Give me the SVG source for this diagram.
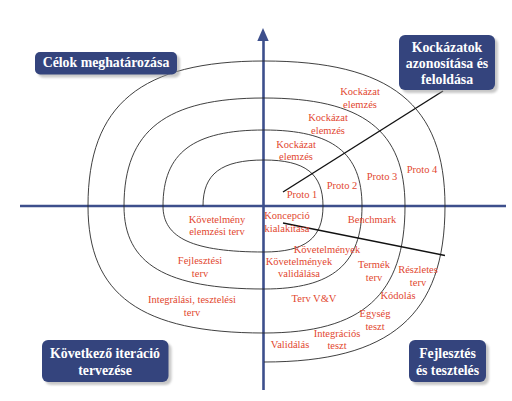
<svg xmlns="http://www.w3.org/2000/svg" width="512" height="401" viewBox="0 0 512 401">
<defs>
<style>
.box{fill:#34447d;}
.shadow{fill:#9a9a9a;opacity:0.55;}
.title{font-family:"Liberation Serif","Times New Roman",serif;font-weight:bold;font-size:13.8px;fill:#ffffff;text-anchor:middle;}
.lbl{font-family:"Liberation Serif","Times New Roman",serif;font-size:10.5px;fill:#e2472f;text-anchor:middle;}
.axis{stroke:#3d4f8c;stroke-width:2.6;fill:none;}
.axshadow{stroke:#c4c4c4;stroke-width:2.4;fill:none;}
.spiral{stroke:#2a2a2a;stroke-width:0.9;fill:none;}
.conn{stroke:#111111;stroke-width:1.4;fill:none;}
</style>
<filter id="blur" x="-10%" y="-20%" width="120%" height="140%"><feGaussianBlur stdDeviation="1.2"/></filter>
</defs>
<rect width="512" height="401" fill="#ffffff"/>

<g id="axes">
<line class="axshadow" x1="22" y1="208.8" x2="507" y2="208.8" filter="url(#blur)"/>
<line class="axshadow" x1="266.5" y1="40" x2="266.5" y2="391" filter="url(#blur)"/>
<line class="axis" x1="20" y1="206" x2="506" y2="206"/>
<line class="axis" x1="263.5" y1="38" x2="263.5" y2="390"/>
<polygon points="263,28 257.3,41 268.7,41" fill="#3d4f8c"/>
</g>

<g id="spiral">
<path class="spiral" d="M203,206 C203,173.8 221.3,160 264,160 C305.3,160 323,173.8 323,206 C323,238.2 305.3,252 264,252 C193.3,252 163,238.2 163,206 C163,152.8 193.3,130 264,130 C332.6,130 362,152.8 362,206 C362,264.1 332.6,289 264,289 C166,289 124,264.1 124,206 C124,130.4 166,98 264,98 C362.7,98 405,130.4 405,206 C405,294.9 362.7,333 264,333 C140.8,333 88,294.9 88,206 C88,104.5 140.8,61 264,61 C390.7,61 445,104.5 445,206 C445,315.2 390.7,362 264,362"/>
</g>

<g id="connectors">
<line class="conn" x1="283" y1="192" x2="443" y2="91"/>
<line class="conn" x1="283" y1="223" x2="445" y2="255.5"/>
</g>

<g id="node-celok">
<rect class="shadow" x="38" y="55" width="142" height="22.5" rx="5" filter="url(#blur)"/>
<rect class="box" x="35" y="52" width="142" height="22.5" rx="5"/>
<text class="title" x="106" y="67.3">Célok meghatározása</text>
</g>

<g id="node-kockazatok">
<rect class="shadow" x="402" y="38" width="96" height="55" rx="6" filter="url(#blur)"/>
<rect class="box" x="399" y="35" width="96" height="55" rx="6"/>
<text class="title" x="447" y="52">Kockázatok</text>
<text class="title" x="447" y="68">azonosítása és</text>
<text class="title" x="447" y="84">feloldása</text>
</g>

<g id="node-kovetkezo">
<rect class="shadow" x="45" y="343" width="126.5" height="42" rx="6" filter="url(#blur)"/>
<rect class="box" x="42" y="340" width="126.5" height="42" rx="6"/>
<text class="title" x="105" y="358">Következő iteráció</text>
<text class="title" x="105" y="375">tervezése</text>
</g>

<g id="node-fejlesztes">
<rect class="shadow" x="412" y="343" width="77" height="42" rx="6" filter="url(#blur)"/>
<rect class="box" x="409" y="340" width="77" height="42" rx="6"/>
<text class="title" x="447.5" y="358">Fejlesztés</text>
<text class="title" x="447.5" y="375">és tesztelés</text>
</g>

<g id="labels">
<text class="lbl" x="360" y="95.2">Kockázat</text>
<text class="lbl" x="360" y="107.7">elemzés</text>
<text class="lbl" x="328" y="121.2">Kockázat</text>
<text class="lbl" x="328" y="133.7">elemzés</text>
<text class="lbl" x="296" y="147.5">Kockázat</text>
<text class="lbl" x="296" y="160.2">elemzés</text>
<text class="lbl" x="302" y="197.5">Proto 1</text>
<text class="lbl" x="342" y="188.5">Proto 2</text>
<text class="lbl" x="382" y="180.2">Proto 3</text>
<text class="lbl" x="422" y="172.5">Proto 4</text>
<text class="lbl" x="287" y="218.5">Koncepció</text>
<text class="lbl" x="287" y="231.5">kialakítása</text>
<text class="lbl" x="372" y="222.5">Benchmark</text>
<text class="lbl" x="217" y="222.5">Követelmény</text>
<text class="lbl" x="217" y="234.5">elemzési terv</text>
<text class="lbl" x="327" y="252.5">Követelmények</text>
<text class="lbl" x="299" y="264.5">Követelmények</text>
<text class="lbl" x="299" y="276.5">validálása</text>
<text class="lbl" x="374" y="267.5">Termék</text>
<text class="lbl" x="374" y="280.5">terv</text>
<text class="lbl" x="418" y="272.5">Részletes</text>
<text class="lbl" x="418" y="285.5">terv</text>
<text class="lbl" x="200" y="263.5">Fejlesztési</text>
<text class="lbl" x="200" y="276.5">terv</text>
<text class="lbl" x="398" y="298.5">Kódolás</text>
<text class="lbl" x="314" y="301.5">Terv V&amp;V</text>
<text class="lbl" x="375" y="316.5">Egység</text>
<text class="lbl" x="375" y="329.5">teszt</text>
<text class="lbl" x="192" y="302.5">Integrálási, tesztelési</text>
<text class="lbl" x="192" y="315.5">terv</text>
<text class="lbl" x="337" y="336.5">Integrációs</text>
<text class="lbl" x="337" y="348.5">teszt</text>
<text class="lbl" x="290" y="347.5">Validálás</text>
</g>
</svg>
